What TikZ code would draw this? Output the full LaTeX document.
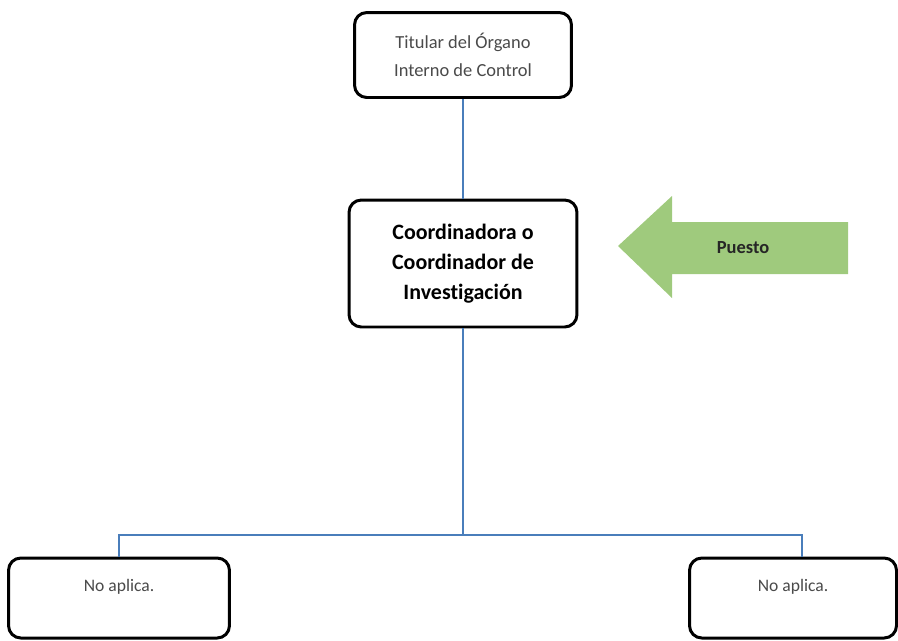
\documentclass[tikz,border=0pt]{standalone}
\usepackage{fontspec}
\setmainfont{Carlito}[Ligatures=NoCommon]
\usepackage{tikz}

\definecolor{linkblue}{HTML}{4A7EBB}
\definecolor{puestogreen}{HTML}{9FCA7D}
\definecolor{softgray}{HTML}{4A4A4A}

\begin{document}
\begin{tikzpicture}[x=0.02cm,y=-0.02cm,
    box/.style={draw,line width=1.7pt,rounded corners=7pt,align=center,fill=white},
    link/.style={draw=linkblue,line width=0.8pt}]
    \useasboundingbox (0,0) rectangle (898,640);
    \node[box,minimum width=4.34cm,minimum height=1.7cm,text=softgray,
      font=\fontsize{10.5}{16}\selectfont] (titular) at (463,55)
      {Titular del Órgano\\Interno de Control};
    \node[box,minimum width=4.56cm,minimum height=2.54cm,
      font=\fontsize{12.5}{17}\selectfont\bfseries] (coord) at (463,263.5)
      {Coordinadora o\\Coordinador de\\Investigación};
    \node[box,minimum width=4.42cm,minimum height=1.6cm,text=softgray,text depth=0.5cm,
      font=\fontsize{10}{12}\selectfont] (left) at (119,598) {No aplica.};
    \node[box,minimum width=4.14cm,minimum height=1.6cm,text=softgray,text depth=0.5cm,
      font=\fontsize{10}{12}\selectfont] (right) at (793,598) {No aplica.};
    \coordinate (split) at (463,535);
    \draw[link] (titular) -- (coord);
    \draw[link] (coord) -- (split);
    \draw[link] (split) -| (left.north);
    \draw[link] (split) -| ([xshift=0.18cm]right.north);
    % flecha del puesto
    \fill[puestogreen] (618,246) -- (672,196) -- (672,222) -- (848,222)
      -- (848,274) -- (672,274) -- (672,298) -- cycle;
    \node[font=\fontsize{10.5}{12}\selectfont\bfseries,text=black!85] (puesto) at (743,248) {Puesto};
\end{tikzpicture}
\end{document}
